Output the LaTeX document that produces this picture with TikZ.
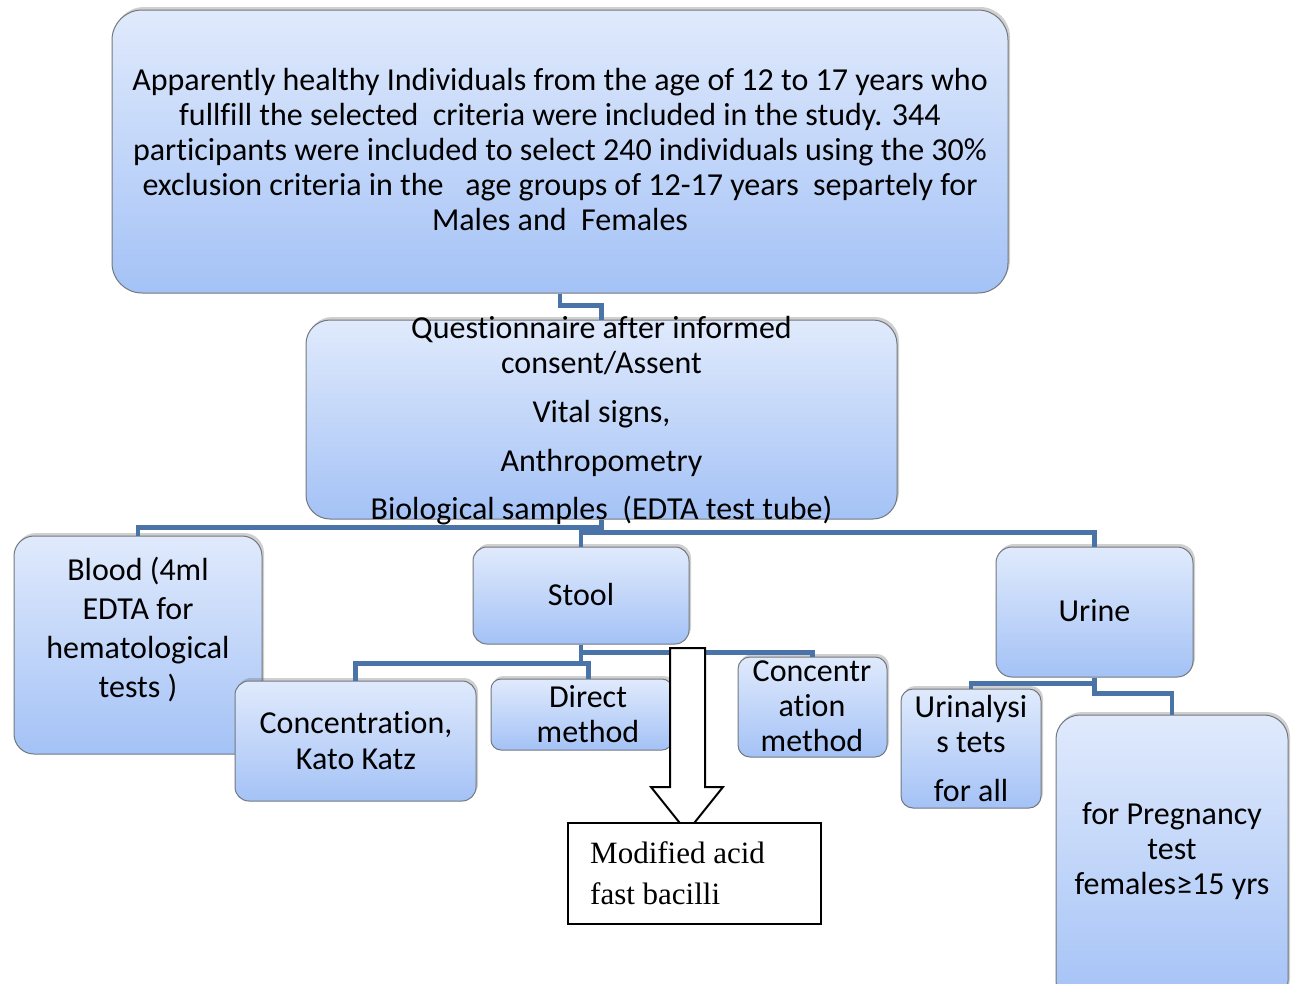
\documentclass[tikz,border=0pt]{standalone}
\usepackage{fontspec}
\setmainfont{Carlito}[Ligatures=NoCommon]
\newfontfamily\timesf{Liberation Serif}
\usetikzlibrary{shadows}
\definecolor{boxTop}{HTML}{E0EAFC}
\definecolor{boxBot}{HTML}{A4C2F6}
\definecolor{boxLine}{HTML}{72787F}
\definecolor{connC}{HTML}{4A74A8}
\tikzset{
  box/.style={draw=boxLine, line width=1pt, top color=boxTop, bottom color=boxBot,
    rounded corners=#1, inner sep=0pt,
    drop shadow={shadow xshift=2pt, shadow yshift=3pt, opacity=0.3, fill=black!60}},
  box/.default=16pt,
  txt/.style={align=center, inner sep=0pt, font=\fontsize{32}{35}\selectfont},
  conn/.style={draw=connC, line width=4.5pt},
  arrowshape/.style={draw=black, line width=2pt, fill=white, line join=miter},
  whitebox/.style={draw=black, line width=1.5pt, fill=white, inner sep=0pt}
}
\begin{document}
\begin{tikzpicture}[x=1pt,y=-1pt]
\useasboundingbox (0,0) rectangle (1293,983);
\fill[white] (0,0) rectangle (1293,983);

% boxes
\node[box=30pt, minimum width=896pt, minimum height=283pt] (top) at (560,151.5) {};
\node[box=24pt, minimum width=591pt, minimum height=199pt] (mid) at (601.5,419.5) {};
\node[box=20pt, minimum width=248pt, minimum height=218pt] (blood) at (138,645) {};
\node[box=14pt, minimum width=216pt, minimum height=97pt] (stool) at (581,595.5) {};
\node[box=16pt, minimum width=197pt, minimum height=130pt] (urine) at (1094.5,612) {};
\node[box=14pt, minimum width=241pt, minimum height=120pt] (kk) at (355.5,741) {};
\node[box=10pt, minimum width=181pt, minimum height=71pt] (direct) at (581.5,714.5) {};
\node[box=12pt, minimum width=149pt, minimum height=100pt] (cm) at (812.5,707) {};
\node[box=12pt, minimum width=140pt, minimum height=119pt] (ua) at (971,748.5) {};
\node[box=24pt, minimum width=232pt, minimum height=290pt] (preg) at (1172,860) {};

% connectors
\draw[conn] (top.south) -- ++(0,12) -| (mid.north);
\draw[conn] (mid.south) -- ++(0,8) -| (blood.north);
\draw[conn] (mid.south) -- ++(0,13) -| (stool.north);
\draw[conn] (mid.south) -- ++(0,13) -| (urine.north);
\draw[conn] (stool.south) -- ++(0,19) -| (kk.north);
\draw[conn] (stool.south) -- ++(0,19) -| ([xshift=7pt]direct.north);
\draw[conn] (stool.south) -- ++(0,8) -| (cm.north);
\draw[conn] (urine.south) -- ++(0,6) -| (ua.north);
\draw[conn] (urine.south) -- ++(0,16) -| (preg.north);

% texts
\node[txt] (topT) at (560,150) {Apparently healthy Individuals from the age of 12 to 17 years who\\
fullfill the selected\ \ criteria were included in the study. 344\\
participants were included to select 240 individuals using the 30\%\\
exclusion criteria in the\ \ \ age groups of 12-17 years\ \ separtely for\\
Males and\ \ Females};
\node[txt] (midT) at (601.5,420.5) {Questionnaire after informed\\consent/Assent\\[14pt]
Vital signs,\\[14pt] Anthropometry\\[13pt] Biological samples\ \ (EDTA test tube)};
\node[txt, font=\fontsize{32}{39}\selectfont] (bloodT) at (138,629.5) {Blood (4ml\\EDTA for\\hematological\\tests )};
\node[txt] (stoolT) at (581,594) {Stool};
\node[txt] (urineT) at (1094.5,611) {Urine};
\node[txt, font=\fontsize{32}{36}\selectfont] (kkT) at (356,740.5) {Concentration,\\Kato Katz};
\node[txt] (directT) at (588,714) {Direct\\method};
\node[txt] (cmT) at (812,706) {Concentr\\ation\\method};
\node[txt] (uaT) at (971,748) {Urinalysi\\s tets\\[14pt]for all};
\node[txt] (pregT) at (1172,851) {for Pregnancy\\test\\females≥15 yrs};

% block arrow
\draw[arrowshape] (670,648) -- (705,648) -- (705,787) -- (723,787) -- (687,832)
  -- (651,787) -- (670,787) -- cycle;

% modified acid fast bacilli
\node[whitebox, minimum width=253pt, minimum height=101pt] (maf) at (694.5,873.5) {};
\node[anchor=west, align=left, inner sep=0pt, font=\timesf\fontsize{31}{41}\selectfont] (mafT) at (590,873.5) {Modified acid\\fast bacilli};
\end{tikzpicture}
\end{document}
